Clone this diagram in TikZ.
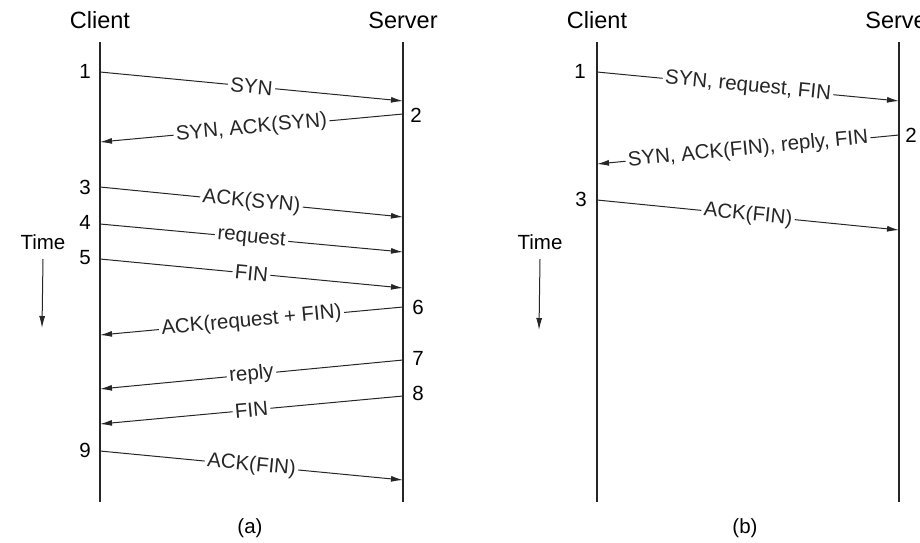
\documentclass[tikz,border=0pt]{standalone}
\usepackage{fontspec}
\setmainfont{Liberation Sans}
\usetikzlibrary{arrows.meta}

\begin{document}
\begin{tikzpicture}[x=1pt,y=-1pt]

% definiciones
\useasboundingbox (0,0) rectangle (920,542);

% estilos de linea y texto
\tikzstyle{linea}   = [line width=1.8pt,black!85]
\tikzstyle{mensaje} = [line width=1pt,black!85,-{Latex[length=12pt,width=6pt]}]
\tikzstyle{rotulo}  = [midway,sloped,fill=white,inner sep=2.5pt,font=\fontsize{20.5}{24}\selectfont]
\tikzstyle{titulo}  = [font=\fontsize{23.5}{28}\selectfont]
\tikzstyle{num}     = [font=\fontsize{20.5}{24}\selectfont]
\tikzstyle{tiempo}  = [line width=1pt,black!85,-{Latex[length=12pt,width=6pt]}]

% mensaje entre lineas de tiempo
% #1: punto de salida ()
% #2: punto de llegada ()
% #3: rotulo del mensaje
\newcommand{\enviar}[3]{
	\draw [mensaje] #1 -- #2 node [rotulo] {#3};
}

% diagrama (a)
\node [titulo] (clienteA) at (100,20) {Client};
\node [titulo] (servidorA) at (403,20) {Server};
\coordinate (ca0) at (100,42);
\coordinate (ca1) at (100,502);
\coordinate (sa0) at (403,42);
\coordinate (sa1) at (403,502);
\draw [linea] (ca0) -- (ca1);
\draw [linea] (sa0) -- (sa1);

\coordinate (a1) at (100,72);  \coordinate (a1s) at (403,101);
\coordinate (a2) at (403,114); \coordinate (a2c) at (100,142);
\coordinate (a3) at (100,187); \coordinate (a3s) at (403,217);
\coordinate (a4) at (100,224); \coordinate (a4s) at (403,252);
\coordinate (a5) at (100,259); \coordinate (a5s) at (403,288);
\coordinate (a6) at (403,307); \coordinate (a6c) at (100,335);
\coordinate (a7) at (403,360); \coordinate (a7c) at (100,389);
\coordinate (a8) at (403,396); \coordinate (a8c) at (100,424);
\coordinate (a9) at (100,451); \coordinate (a9s) at (403,480);

\enviar{(a1)}{(a1s)}{SYN}
\enviar{(a2)}{(a2c)}{SYN, ACK(SYN)}
\enviar{(a3)}{(a3s)}{ACK(SYN)}
\enviar{(a4)}{(a4s)}{request}
\enviar{(a5)}{(a5s)}{FIN}
\enviar{(a6)}{(a6c)}{ACK(request + FIN)}
\enviar{(a7)}{(a7c)}{reply}
\enviar{(a8)}{(a8c)}{FIN}
\enviar{(a9)}{(a9s)}{ACK(FIN)}

\node [num] (na1) at (85,71)   {1};
\node [num] (na2) at (416,115) {2};
\node [num] (na3) at (85,187)  {3};
\node [num] (na4) at (85,222)  {4};
\node [num] (na5) at (85,258)  {5};
\node [num] (na6) at (418,307) {6};
\node [num] (na7) at (418,358) {7};
\node [num] (na8) at (418,393) {8};
\node [num] (na9) at (85,450)  {9};

\node [num] (tiempoA) at (43,242) {Time};
\coordinate (finA) at (42,328);
\draw [tiempo] ([yshift=-6pt]tiempoA.south) -- (finA);
\node [num] (rotA) at (250,528) {(a)};

% diagrama (b)
\node [titulo] (clienteB) at (597,20) {Client};
\node [titulo] (servidorB) at (900,20) {Server};
\coordinate (cb0) at (597,42);
\coordinate (cb1) at (597,502);
\coordinate (sb0) at (899,42);
\coordinate (sb1) at (899,502);
\draw [linea] (cb0) -- (cb1);
\draw [linea] (sb0) -- (sb1);

\coordinate (b1) at (597,72);  \coordinate (b1s) at (899,101);
\coordinate (b2) at (899,135); \coordinate (b2c) at (597,164);
\coordinate (b3) at (597,200); \coordinate (b3s) at (899,230);

\enviar{(b1)}{(b1s)}{SYN, request, FIN}
\enviar{(b2)}{(b2c)}{SYN, ACK(FIN), reply, FIN}
\enviar{(b3)}{(b3s)}{ACK(FIN)}

\node [num] (nb1) at (580,71)  {1};
\node [num] (nb2) at (911,135) {2};
\node [num] (nb3) at (581,199) {3};

\node [num] (tiempoB) at (540,242) {Time};
\coordinate (finB) at (539,330);
\draw [tiempo] ([yshift=-6pt]tiempoB.south) -- (finB);
\node [num] (rotB) at (745,528) {(b)};

\end{tikzpicture}
\end{document}
